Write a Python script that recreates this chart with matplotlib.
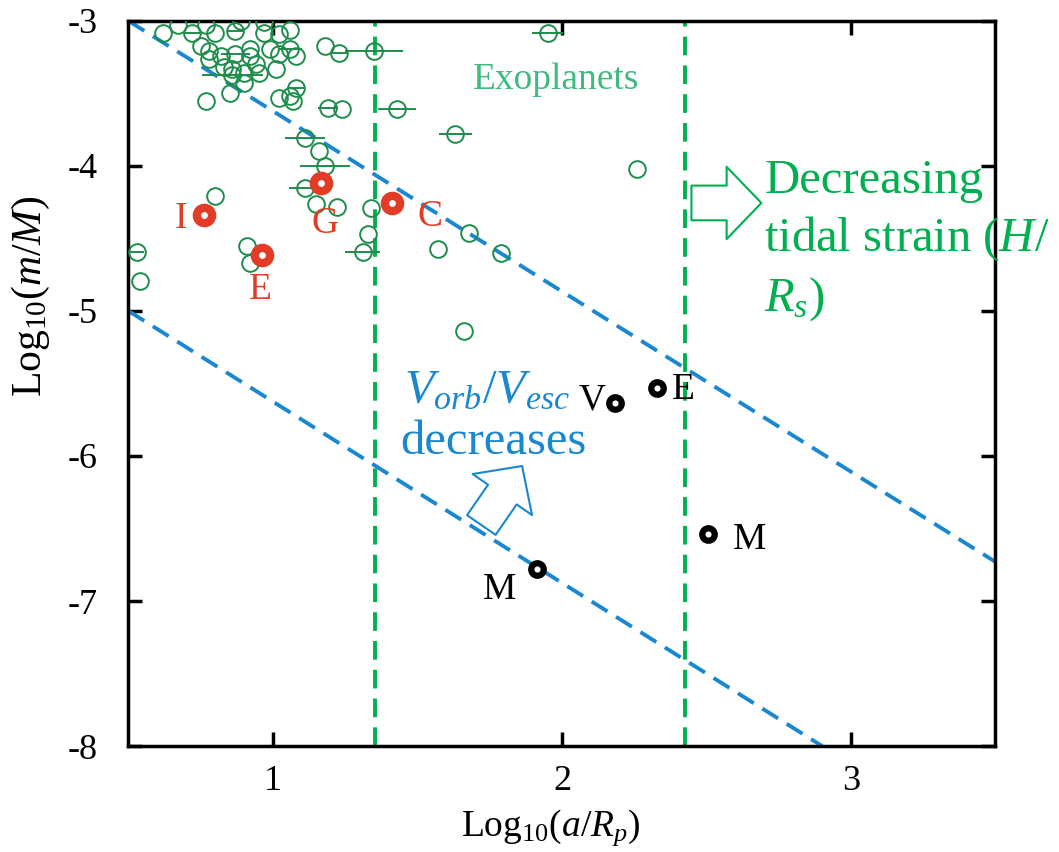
import matplotlib
matplotlib.use("Agg")
import matplotlib.pyplot as plt

plt.rcParams['font.family'] = ['Liberation Serif', 'DejaVu Serif']
plt.rcParams['mathtext.fontset'] = 'custom'
plt.rcParams['mathtext.rm'] = 'Liberation Serif'
plt.rcParams['mathtext.it'] = 'Liberation Serif:italic'

# exoplanets: log10(a/Rp), log10(m/M), half width of the error bar in x
exo_x = [0.62, 0.67, 0.72, 0.77, 0.75, 0.78, 0.80, 0.78, 0.82, 0.87, 0.89, 0.87,
         0.92, 0.92, 0.86, 0.83, 0.94, 0.95, 0.90, 0.85, 0.77, 0.97, 0.97, 1.02,
         1.06, 0.99, 1.02, 1.06, 1.08, 1.01, 1.08, 1.06, 1.02, 1.07, 0.90, 0.86,
         1.18, 1.23, 1.35, 1.19, 1.24, 1.43, 1.63, 1.11, 1.16, 1.18, 1.11, 1.15,
         1.22, 1.34, 1.33, 1.31, 1.57, 1.68, 1.79, 1.66, 1.95, 2.26, 0.80, 0.53,
         0.54, 0.91, 0.92]
exo_y = [-3.08, -3.03, -3.08, -3.03, -3.17, -3.21, -3.08, -3.26, -3.24, -3.23, -3.00, -3.07,
         -3.19, -3.24, -3.33, -3.32, -3.30, -3.36, -3.43, -3.50, -3.55, -3.01, -3.08, -3.09,
         -3.06, -3.19, -3.23, -3.19, -3.24, -3.33, -3.46, -3.52, -3.53, -3.55, -3.36, -3.37,
         -3.17, -3.22, -3.21, -3.60, -3.61, -3.61, -3.78, -3.81, -3.90, -4.00, -4.15, -4.26,
         -4.28, -4.29, -4.47, -4.59, -4.57, -4.46, -4.60, -5.14, -3.08, -4.02, -4.21, -4.59,
         -4.79, -4.55, -4.67]
exo_xerr = [0, 0, 0.03, 0, 0, 0, 0, 0, 0, 0.05, 0, 0.03,
            0, 0, 0, 0, 0, 0, 0, 0, 0, 0, 0, 0,
            0, 0, 0, 0.04, 0, 0, 0.03, 0, 0, 0, 0, 0.105,
            0, 0.026, 0.10, 0.035, 0, 0.065, 0.057, 0.069, 0, 0.086, 0.055, 0,
            0, 0, 0, 0.059, 0, 0, 0, 0, 0.052, 0, 0, 0.025,
            0, 0, 0]

# Galilean moons
moon_names = ['I', 'E', 'G', 'C']
moon_x = [0.761, 0.962, 1.166, 1.412]
moon_y = [-4.338, -4.614, -4.117, -4.255]
moon_lx = [0.682, 0.955, 1.180, 1.543]
moon_ly = [-4.428, -4.917, -4.462, -4.414]

# terrestrial bodies
body_names = ['V', 'E', 'M', 'M']
body_x = [2.183, 2.329, 2.505, 1.913]
body_y = [-5.634, -5.531, -6.538, -6.779]
body_lx = [2.104, 2.419, 2.650, 1.785]
body_ly = [-5.676, -5.607, -6.641, -6.986]

# boundaries
vline_x = [1.353, 2.426]
upper_x, upper_y = [0.5, 3.5], [-3.0, -6.73]
lower_x, lower_y = [0.5, 2.9], [-5.0, -8.0]

green_dark = '#1e8c4a'
green = '#00b050'
green_light = '#40bb80'
blue = '#1a88d0'
red = '#e23b26'

fig = plt.figure(figsize=(10.59, 8.52), dpi=100)
ax = fig.add_axes([0.1213, 0.1244, 0.8187, 0.851])

ax.plot(upper_x, upper_y, color=blue, lw=2.8, dashes=(4.8, 2.6), zorder=2)
ax.plot(lower_x, lower_y, color=blue, lw=2.8, dashes=(4.8, 2.6), zorder=2)
for xv in vline_x:
    ax.axvline(xv, color=green, lw=2.8, dashes=(4.8, 2.6), zorder=2)

ax.errorbar(exo_x, exo_y, xerr=exo_xerr, fmt='o', ms=12, mfc='none',
            mec=green_dark, mew=1.4, ecolor=green_dark, elinewidth=1.4,
            capsize=0, zorder=3)

ax.plot(moon_x, moon_y, 'o', ms=11, mfc='white', mec=red, mew=6, zorder=4)
for name, x, y in zip(moon_names, moon_lx, moon_ly):
    ax.text(x, y, name, color=red, fontsize=27, ha='center', va='baseline', zorder=5)

ax.plot(body_x, body_y, 'o', ms=9, mfc='white', mec='black', mew=4.5, zorder=4)
for name, x, y in zip(body_names, body_lx, body_ly):
    ax.text(x, y, name, color='black', fontsize=27, ha='center', va='baseline', zorder=5)

ax.text(1.98, -3.47, 'Exoplanets', color=green_light, fontsize=27, ha='center', va='baseline')

arrow_style = 'simple,head_length=25,head_width=52,tail_width=25'
ax.annotate('', xy=(2.69, -4.255), xytext=(2.448, -4.255),
            arrowprops=dict(arrowstyle=arrow_style, mutation_scale=1, fc='white',
                            ec=green, lw=1.5, shrinkA=0, shrinkB=0))
ax.annotate('', xy=(1.862, -6.069), xytext=(1.721, -6.476),
            arrowprops=dict(arrowstyle=arrow_style, mutation_scale=1, fc='white',
                            ec=blue, lw=1.5, shrinkA=0, shrinkB=0))

ax.text(2.70, -4.186, 'Decreasing', color=green, fontsize=35, ha='left', va='baseline')
ax.text(2.70, -4.586, 'tidal strain ($H$/', color=green, fontsize=35, ha='left', va='baseline')
ax.text(2.70, -5.0, '$R_s$)', color=green, fontsize=35, ha='left', va='baseline')

ax.text(1.455, -5.634, '$V_{orb}$/$V_{esc}$', color=blue, fontsize=35, ha='left', va='baseline')
ax.text(1.44, -5.986, 'decreases', color=blue, fontsize=35, ha='left', va='baseline')

ax.set_xlim(0.5, 3.5)
ax.set_ylim(-8, -3)
ax.set_xticks([1, 2, 3])
ax.set_yticks([-8, -7, -6, -5, -4, -3])
ax.set_yticklabels(['-8', '-7', '-6', '-5', '-4', '-3'])
ax.tick_params(direction='in', length=10, width=2.5, top=True, right=True,
               labelsize=26)
ax.tick_params(axis='x', pad=14)
ax.tick_params(axis='y', pad=22)
for sp in ax.spines.values():
    sp.set_linewidth(2.5)

ax.set_xlabel('Log$_{10}$($a$/$R_p$)', fontsize=27)
ax.xaxis.set_label_coords(0.487, -0.085)
ax.set_ylabel('Log$_{10}$($m$/$M$)', fontsize=30)
ax.yaxis.set_label_coords(-0.088, 0.62)

fig.savefig('out.png', dpi=100)
